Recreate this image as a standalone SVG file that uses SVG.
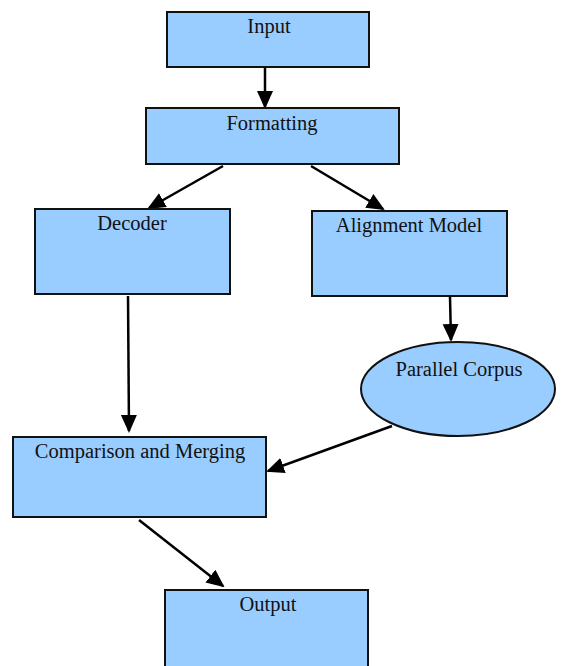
<svg xmlns="http://www.w3.org/2000/svg" width="562" height="666" viewBox="0 0 562 666">
<defs>
<style>
.n{fill:#99CCFF;stroke:#111;stroke-width:2}
.t{font-family:"Liberation Serif","Times New Roman",serif;font-size:20.5px;fill:#111;text-anchor:middle}
.c line{stroke:#000;stroke-width:2.5;marker-end:url(#ah)}
</style>
<marker id="ah" markerUnits="userSpaceOnUse" markerWidth="18" markerHeight="18" viewBox="0 0 18 18" refX="16" refY="9" orient="auto">
<path d="M0,1 L18,9 L0,17 z" fill="#000"/>
</marker>
</defs>
<rect width="562" height="666" fill="#fff"/>
<g class="c" id="connectors">
<line x1="265" y1="67" x2="265" y2="107"/>
<line x1="223" y1="166" x2="149" y2="208"/>
<line x1="311" y1="166" x2="383" y2="209"/>
<line x1="128" y1="296" x2="129" y2="431"/>
<line x1="450" y1="297" x2="451" y2="340"/>
<line x1="392" y1="426" x2="268" y2="471"/>
<line x1="139" y1="520" x2="223" y2="586"/>
</g>
<g id="input"><rect class="n" x="167" y="12" width="202" height="55"/><text class="t" x="269" y="33">Input</text></g>
<g id="formatting"><rect class="n" x="146" y="108" width="253" height="56"/><text class="t" x="272" y="130">Formatting</text></g>
<g id="decoder"><rect class="n" x="35" y="209" width="195" height="85"/><text class="t" x="132" y="230">Decoder</text></g>
<g id="alignment"><rect class="n" x="312" y="211" width="195" height="85"/><text class="t" x="409" y="232">Alignment Model</text></g>
<g id="corpus"><ellipse class="n" cx="458" cy="389" rx="97" ry="47"/><text class="t" x="459" y="376">Parallel Corpus</text></g>
<g id="comparison"><rect class="n" x="13" y="437" width="253" height="80"/><text class="t" x="140" y="458">Comparison and Merging</text></g>
<g id="output"><rect class="n" x="165" y="590" width="203" height="82"/><text class="t" x="268" y="611">Output</text></g>
</svg>
